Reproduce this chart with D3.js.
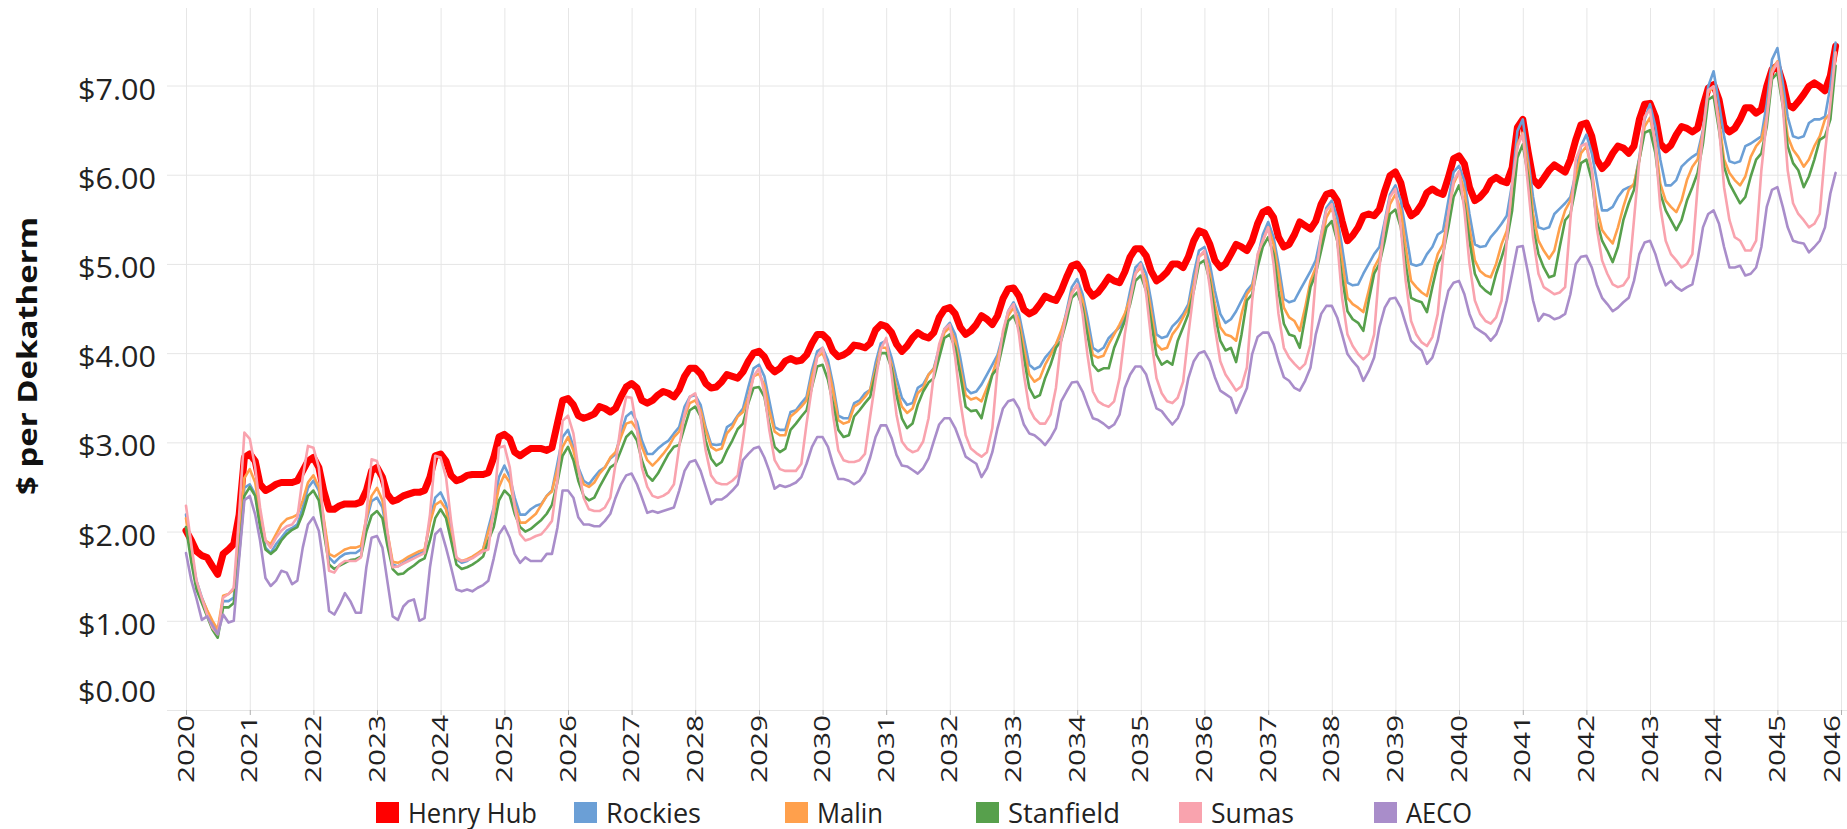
<!DOCTYPE html>
<html><head><meta charset="utf-8">
<script src="https://cdn.jsdelivr.net/npm/d3@7"></script>
<style>body{margin:0;background:#fff}svg{display:block}</style>
</head><body>
<svg id="c" width="1847" height="829"></svg>
<script>
// ---------- DATA (monthly, Jan 2020 .. Dec 2045) ----------
const years = d3.range(2020, 2047);
const yTicks = [0, 1, 2, 3, 4, 5, 6, 7];
const yTickLabels = ["$0.00", "$1.00", "$2.00", "$3.00", "$4.00", "$5.00", "$6.00", "$7.00"];
const seriesNames = ["Henry Hub", "Rockies", "Malin", "Stanfield", "Sumas", "AECO"];
const yTitle = "$ per Dekatherm";

const henryHub = [
2.01,1.90,1.78,1.73,1.71,1.61,1.52,1.75,1.80,1.86,2.19,2.83,
2.87,2.79,2.53,2.46,2.49,2.53,2.55,2.55,2.55,2.57,2.68,2.79,
2.83,2.72,2.46,2.25,2.25,2.29,2.31,2.31,2.31,2.33,2.46,2.68,
2.72,2.61,2.42,2.34,2.36,2.40,2.42,2.44,2.44,2.46,2.61,2.85,
2.87,2.79,2.63,2.57,2.59,2.63,2.64,2.64,2.64,2.66,2.83,3.06,
3.09,3.04,2.89,2.85,2.89,2.93,2.93,2.93,2.91,2.94,3.21,3.47,
3.49,3.42,3.30,3.27,3.29,3.32,3.40,3.38,3.34,3.38,3.51,3.62,
3.66,3.61,3.47,3.44,3.47,3.53,3.57,3.55,3.51,3.59,3.74,3.83,
3.83,3.77,3.66,3.61,3.62,3.68,3.76,3.74,3.72,3.79,3.91,4.00,
4.02,3.96,3.85,3.79,3.83,3.91,3.94,3.91,3.92,3.98,4.11,4.21,
4.21,4.15,4.02,3.96,3.98,4.02,4.09,4.08,4.06,4.11,4.26,4.32,
4.30,4.23,4.10,4.02,4.08,4.17,4.23,4.19,4.17,4.23,4.40,4.49,
4.51,4.44,4.29,4.21,4.25,4.32,4.42,4.38,4.32,4.42,4.61,4.72,
4.73,4.64,4.49,4.44,4.47,4.55,4.64,4.61,4.59,4.70,4.85,4.98,
5.00,4.91,4.72,4.64,4.68,4.76,4.85,4.81,4.79,4.91,5.08,5.17,
5.17,5.09,4.92,4.81,4.85,4.91,5.00,5.00,4.96,5.08,5.26,5.37,
5.35,5.22,5.04,4.96,5.00,5.11,5.22,5.19,5.15,5.26,5.45,5.58,
5.61,5.52,5.30,5.19,5.22,5.33,5.47,5.43,5.39,5.48,5.67,5.78,
5.80,5.71,5.48,5.26,5.32,5.41,5.54,5.56,5.54,5.61,5.82,5.99,
6.03,5.91,5.67,5.54,5.58,5.67,5.80,5.84,5.80,5.78,5.97,6.18,
6.21,6.12,5.86,5.71,5.75,5.82,5.93,5.97,5.93,5.91,6.08,6.53,
6.62,6.25,5.95,5.88,5.96,6.05,6.11,6.07,6.03,6.17,6.39,6.56,
6.58,6.43,6.17,6.07,6.13,6.24,6.32,6.30,6.24,6.32,6.62,6.79,
6.80,6.65,6.35,6.28,6.33,6.45,6.54,6.52,6.48,6.52,6.77,6.97,
7.01,6.84,6.54,6.48,6.52,6.62,6.75,6.75,6.69,6.73,6.99,7.18,
7.22,7.03,6.79,6.75,6.82,6.90,6.99,7.03,6.99,6.94,7.11,7.44];

const rockies = [
2.19,1.75,1.45,1.26,1.11,0.96,0.88,1.22,1.22,1.26,1.82,2.49,
2.53,2.42,2.12,1.82,1.76,1.86,1.93,2.01,2.04,2.08,2.27,2.49,
2.57,2.46,2.12,1.71,1.65,1.71,1.75,1.76,1.76,1.80,2.12,2.34,
2.38,2.27,1.97,1.63,1.61,1.65,1.69,1.73,1.75,1.78,2.12,2.38,
2.44,2.31,2.01,1.69,1.65,1.67,1.71,1.75,1.80,2.04,2.27,2.61,
2.74,2.61,2.38,2.19,2.19,2.25,2.29,2.31,2.40,2.46,2.76,3.06,
3.14,2.95,2.72,2.57,2.53,2.61,2.68,2.72,2.82,2.87,3.10,3.29,
3.34,3.23,3.02,2.87,2.87,2.93,2.98,3.02,3.10,3.17,3.40,3.51,
3.53,3.42,3.17,2.98,2.97,2.98,3.17,3.21,3.30,3.38,3.62,3.83,
3.87,3.74,3.47,3.17,3.14,3.14,3.34,3.36,3.44,3.51,3.81,4.02,
4.06,3.92,3.66,3.30,3.27,3.27,3.44,3.47,3.55,3.59,3.89,4.11,
4.14,3.95,3.72,3.50,3.42,3.44,3.61,3.65,3.76,3.83,4.06,4.27,
4.34,4.21,3.95,3.61,3.55,3.57,3.65,3.76,3.87,3.98,4.21,4.47,
4.57,4.44,4.17,3.87,3.82,3.85,3.95,4.02,4.10,4.21,4.47,4.74,
4.83,4.66,4.40,4.06,4.02,4.06,4.17,4.23,4.29,4.40,4.70,4.96,
5.02,4.89,4.59,4.21,4.17,4.19,4.30,4.36,4.44,4.55,4.89,5.15,
5.19,5.00,4.70,4.44,4.34,4.38,4.47,4.59,4.70,4.77,5.07,5.33,
5.47,5.30,5.00,4.61,4.57,4.59,4.70,4.81,4.92,5.04,5.33,5.63,
5.71,5.52,5.19,4.79,4.76,4.77,4.89,5.00,5.11,5.19,5.48,5.78,
5.88,5.71,5.37,5.00,4.98,5.00,5.11,5.19,5.33,5.37,5.71,6.03,
6.10,5.93,5.56,5.22,5.19,5.20,5.30,5.37,5.45,5.54,5.90,6.49,
6.62,6.17,5.75,5.41,5.39,5.41,5.56,5.62,5.68,5.75,6.02,6.32,
6.45,6.24,5.94,5.60,5.60,5.64,5.75,5.83,5.86,5.88,6.20,6.62,
6.79,6.54,6.17,5.88,5.88,5.94,6.09,6.15,6.20,6.24,6.50,6.99,
7.16,6.80,6.43,6.15,6.13,6.15,6.32,6.35,6.39,6.43,6.80,7.29,
7.42,7.03,6.65,6.43,6.41,6.43,6.58,6.62,6.62,6.65,6.99,7.48];

const malin = [
2.15,1.70,1.40,1.25,1.12,1.00,0.90,1.28,1.30,1.35,1.90,2.60,
2.70,2.55,2.20,1.90,1.86,1.97,2.08,2.14,2.16,2.19,2.35,2.55,
2.63,2.50,2.15,1.75,1.72,1.76,1.80,1.82,1.82,1.84,2.15,2.40,
2.49,2.35,2.00,1.66,1.65,1.68,1.72,1.75,1.78,1.80,2.10,2.30,
2.34,2.25,1.95,1.70,1.67,1.69,1.72,1.76,1.80,2.00,2.20,2.50,
2.64,2.55,2.30,2.10,2.10,2.15,2.20,2.30,2.40,2.45,2.70,2.95,
3.06,2.91,2.68,2.53,2.50,2.55,2.65,2.72,2.83,2.89,3.06,3.21,
3.23,3.14,2.95,2.80,2.74,2.80,2.87,2.95,3.06,3.12,3.29,3.44,
3.47,3.36,3.14,2.95,2.91,2.93,3.10,3.17,3.29,3.34,3.51,3.74,
3.77,3.64,3.36,3.12,3.08,3.08,3.29,3.34,3.40,3.47,3.74,3.96,
4.00,3.85,3.59,3.25,3.21,3.23,3.40,3.44,3.51,3.59,3.81,4.06,
4.06,3.87,3.61,3.40,3.33,3.38,3.55,3.61,3.76,3.82,4.02,4.23,
4.29,4.14,3.83,3.53,3.48,3.50,3.46,3.61,3.76,3.95,4.17,4.42,
4.51,4.36,4.06,3.76,3.68,3.72,3.87,3.98,4.10,4.25,4.44,4.68,
4.76,4.59,4.29,3.98,3.95,3.97,4.10,4.21,4.32,4.44,4.62,4.89,
4.96,4.81,4.47,4.10,4.04,4.06,4.21,4.29,4.40,4.51,4.77,5.08,
5.13,4.89,4.55,4.29,4.21,4.19,4.14,4.44,4.66,4.74,5.00,5.26,
5.41,5.22,4.89,4.51,4.40,4.36,4.25,4.51,4.81,4.96,5.22,5.52,
5.63,5.41,5.04,4.62,4.55,4.51,4.46,4.70,4.96,5.07,5.37,5.67,
5.78,5.60,5.19,4.81,4.74,4.68,4.64,4.89,5.11,5.22,5.56,5.90,
6.03,5.82,5.41,5.04,4.92,4.87,4.85,5.00,5.22,5.37,5.71,6.34,
6.47,6.09,5.56,5.26,5.15,5.06,5.15,5.41,5.60,5.71,5.98,6.24,
6.32,6.05,5.64,5.38,5.30,5.23,5.41,5.64,5.83,5.90,6.17,6.54,
6.64,6.35,5.90,5.71,5.64,5.58,5.71,5.94,6.09,6.17,6.47,6.92,
6.99,6.62,6.17,6.02,5.94,5.88,5.98,6.20,6.32,6.39,6.65,7.18,
7.27,6.88,6.43,6.28,6.20,6.09,6.17,6.32,6.43,6.62,6.69,7.37];

const stanfield = [
2.05,1.65,1.35,1.20,1.05,0.90,0.81,1.15,1.15,1.20,1.75,2.40,
2.50,2.40,2.05,1.80,1.75,1.80,1.90,1.97,2.02,2.05,2.20,2.40,
2.46,2.35,2.00,1.63,1.58,1.62,1.65,1.68,1.69,1.72,2.00,2.18,
2.23,2.15,1.85,1.58,1.52,1.53,1.58,1.62,1.67,1.70,1.90,2.15,
2.25,2.15,1.90,1.63,1.58,1.60,1.63,1.67,1.72,1.90,2.05,2.35,
2.46,2.40,2.20,2.05,2.00,2.03,2.08,2.13,2.20,2.30,2.55,2.85,
2.95,2.80,2.57,2.40,2.35,2.38,2.50,2.61,2.72,2.76,2.91,3.06,
3.12,3.02,2.80,2.63,2.57,2.65,2.76,2.87,2.95,2.97,3.17,3.36,
3.40,3.29,3.02,2.82,2.74,2.78,2.91,3.02,3.15,3.21,3.44,3.61,
3.62,3.51,3.21,2.95,2.89,2.93,3.14,3.21,3.29,3.36,3.62,3.85,
3.87,3.70,3.44,3.14,3.06,3.08,3.29,3.36,3.44,3.51,3.77,4.00,
4.00,3.83,3.53,3.27,3.16,3.21,3.42,3.57,3.67,3.72,3.95,4.17,
4.21,4.06,3.76,3.40,3.35,3.36,3.27,3.53,3.76,3.83,4.10,4.36,
4.42,4.27,3.95,3.61,3.50,3.53,3.72,3.87,4.06,4.14,4.36,4.62,
4.68,4.51,4.21,3.87,3.80,3.83,3.83,4.06,4.21,4.36,4.55,4.81,
4.87,4.70,4.36,3.98,3.87,3.91,3.87,4.14,4.29,4.44,4.70,5.00,
5.04,4.81,4.44,4.14,4.03,4.06,3.90,4.21,4.59,4.66,4.96,5.19,
5.30,5.11,4.70,4.33,4.21,4.19,4.06,4.40,4.74,4.89,5.15,5.41,
5.48,5.26,4.85,4.47,4.38,4.34,4.25,4.59,4.89,5.00,5.26,5.56,
5.61,5.41,5.00,4.62,4.59,4.57,4.46,4.74,5.00,5.11,5.41,5.75,
5.88,5.67,5.26,4.89,4.76,4.70,4.66,4.89,5.07,5.26,5.60,6.19,
6.34,5.98,5.41,5.11,4.96,4.85,4.87,5.19,5.49,5.56,5.86,6.13,
6.17,5.94,5.49,5.26,5.15,5.02,5.19,5.49,5.68,5.83,6.17,6.47,
6.50,6.24,5.79,5.60,5.49,5.38,5.49,5.71,5.86,6.02,6.35,6.84,
6.88,6.50,6.09,5.90,5.79,5.68,5.75,5.98,6.17,6.24,6.54,7.07,
7.14,6.77,6.32,6.13,6.05,5.86,5.98,6.17,6.39,6.43,6.62,7.22];

const sumas = [
2.29,1.85,1.45,1.25,1.07,0.92,0.85,1.26,1.30,1.37,2.19,3.11,
3.04,2.72,2.27,1.90,1.82,1.93,2.01,2.06,2.08,2.16,2.61,2.96,
2.94,2.72,2.12,1.56,1.54,1.63,1.67,1.67,1.67,1.71,2.19,2.81,
2.79,2.57,2.01,1.60,1.61,1.64,1.67,1.70,1.73,1.76,2.19,2.85,
2.83,2.61,2.12,1.71,1.67,1.68,1.70,1.74,1.78,1.80,2.27,2.94,
2.96,2.72,2.27,1.97,1.90,1.92,1.95,1.97,2.04,2.12,2.57,3.24,
3.30,3.10,2.72,2.38,2.25,2.23,2.23,2.27,2.38,2.76,3.21,3.51,
3.50,3.14,2.72,2.50,2.40,2.38,2.40,2.44,2.53,2.95,3.32,3.51,
3.55,3.29,2.91,2.63,2.55,2.53,2.53,2.57,2.63,3.02,3.47,3.74,
3.83,3.55,3.14,2.80,2.70,2.68,2.68,2.68,2.76,3.21,3.62,3.96,
4.06,3.81,3.32,2.91,2.80,2.78,2.78,2.80,2.87,3.29,3.70,4.04,
4.17,3.76,3.31,3.01,2.93,2.89,2.91,3.01,3.27,3.76,4.10,4.27,
4.32,3.95,3.46,3.08,2.93,2.88,2.84,2.89,3.16,3.83,4.25,4.47,
4.55,4.21,3.76,3.38,3.27,3.21,3.21,3.31,3.61,4.14,4.44,4.66,
4.77,4.44,3.98,3.57,3.46,3.42,3.40,3.46,3.72,4.21,4.59,4.89,
5.00,4.66,4.17,3.72,3.55,3.46,3.44,3.50,3.68,4.21,4.70,5.08,
5.15,4.74,4.29,3.91,3.76,3.67,3.58,3.63,3.84,4.59,5.11,5.26,
5.41,5.00,4.44,4.06,3.95,3.88,3.82,3.88,4.10,4.85,5.33,5.60,
5.67,5.26,4.62,4.21,4.08,3.99,3.93,3.99,4.21,4.96,5.45,5.75,
5.84,5.41,4.81,4.36,4.21,4.12,4.08,4.18,4.44,5.07,5.56,5.93,
6.04,5.60,5.00,4.59,4.44,4.36,4.33,4.40,4.59,5.26,5.90,6.31,
6.46,5.86,5.30,4.89,4.74,4.70,4.66,4.68,4.74,5.49,6.17,6.32,
6.35,6.05,5.41,5.04,4.89,4.77,4.74,4.76,4.85,5.49,6.17,6.65,
6.73,6.32,5.64,5.26,5.11,5.04,4.96,5.00,5.11,5.86,6.47,6.95,
6.99,6.54,5.86,5.49,5.30,5.26,5.15,5.15,5.26,6.05,6.62,7.14,
7.26,6.77,6.05,5.68,5.56,5.49,5.41,5.45,5.56,6.24,6.80,7.37];

const aeco = [
1.76,1.45,1.25,1.01,1.05,0.95,0.85,1.07,0.98,1.00,1.70,2.35,
2.40,2.19,1.90,1.48,1.39,1.45,1.56,1.54,1.41,1.45,1.82,2.08,
2.16,2.01,1.63,1.11,1.07,1.18,1.31,1.22,1.09,1.09,1.60,1.93,
1.95,1.82,1.45,1.05,1.01,1.16,1.22,1.24,1.00,1.03,1.60,1.97,
2.03,1.82,1.60,1.35,1.33,1.35,1.33,1.37,1.40,1.45,1.70,1.97,
2.06,1.93,1.75,1.65,1.71,1.67,1.67,1.67,1.75,1.75,2.04,2.46,
2.46,2.38,2.16,2.08,2.08,2.06,2.06,2.12,2.20,2.38,2.53,2.63,
2.65,2.53,2.38,2.21,2.23,2.21,2.23,2.25,2.27,2.46,2.68,2.78,
2.80,2.68,2.50,2.31,2.36,2.36,2.40,2.46,2.53,2.80,2.87,2.93,
2.95,2.83,2.68,2.48,2.52,2.50,2.52,2.55,2.61,2.76,2.95,3.06,
3.06,2.95,2.76,2.59,2.59,2.57,2.53,2.57,2.66,2.83,3.06,3.19,
3.19,3.05,2.86,2.74,2.73,2.69,2.65,2.71,2.82,3.01,3.20,3.27,
3.27,3.16,3.01,2.84,2.80,2.76,2.61,2.71,2.89,3.16,3.38,3.46,
3.48,3.38,3.20,3.10,3.08,3.03,2.97,3.05,3.16,3.46,3.57,3.67,
3.68,3.57,3.42,3.27,3.25,3.21,3.16,3.20,3.31,3.61,3.76,3.85,
3.85,3.76,3.57,3.38,3.35,3.27,3.20,3.27,3.42,3.72,3.91,4.00,
4.02,3.91,3.73,3.58,3.54,3.50,3.33,3.47,3.61,3.99,4.18,4.23,
4.23,4.10,3.91,3.73,3.69,3.61,3.58,3.69,3.84,4.21,4.44,4.53,
4.53,4.40,4.21,3.99,3.91,3.84,3.69,3.80,3.95,4.29,4.51,4.61,
4.62,4.51,4.33,4.14,4.08,4.03,3.88,3.95,4.14,4.44,4.70,4.79,
4.81,4.66,4.44,4.29,4.25,4.21,4.14,4.21,4.36,4.59,4.89,5.19,
5.20,4.89,4.59,4.36,4.44,4.42,4.38,4.40,4.44,4.66,5.00,5.08,
5.09,4.96,4.77,4.62,4.55,4.47,4.51,4.57,4.62,4.81,5.11,5.24,
5.26,5.11,4.92,4.76,4.81,4.74,4.70,4.74,4.77,5.04,5.41,5.56,
5.60,5.45,5.19,4.96,4.96,4.98,4.87,4.89,4.96,5.19,5.64,5.83,
5.86,5.64,5.41,5.26,5.24,5.23,5.13,5.19,5.26,5.41,5.79,6.02];

// ---------- STYLE ----------
const seriesValues = [henryHub, rockies, malin, stanfield, sumas, aeco];
const seriesColors = ["#ff0000", "#6b9fd6", "#ffa04c", "#57a04c", "#f9a3ae", "#a98dca"];
const seriesWidths = [7, 2.6, 2.6, 2.6, 2.6, 2.6];
const legendX = [376, 574, 785, 976, 1179, 1374];
const legendLen = [129, 95, 66, 112, 83, 66];

const W = 1847, H = 829;
const plotLeft = 167, plotTop = 8, plotBottom = 710;
const months = d3.range(henryHub.length).map(i => new Date(2020, i, 1));

const svg = d3.select("#c");
const x = d3.scaleTime().domain([new Date(2020, 0, 1), new Date(2046, 0, 1)]).range([186, 1841]);
const y = d3.scaleLinear().domain([0, 7]).range([710, 85.5]);

// gridlines
const gy = svg.append("g").attr("transform", `translate(${plotLeft},0)`)
  .call(d3.axisLeft(y).tickValues(yTicks).tickSize(-(W - plotLeft)).tickFormat(""));
gy.select(".domain").remove();
gy.selectAll("line").attr("stroke", "#e6e6e6").attr("stroke-width", 1);

const gx = svg.append("g").attr("transform", `translate(0,${plotBottom})`)
  .call(d3.axisBottom(x).tickValues(years.map(v => new Date(v, 0, 1))).tickSize(-(plotBottom - plotTop)).tickFormat(""));
gx.select(".domain").remove();
gx.selectAll("line").attr("stroke", "#e6e6e6").attr("stroke-width", 1);

// small tick marks below
const gt = svg.append("g").attr("transform", `translate(0,${plotBottom})`)
  .call(d3.axisBottom(x).tickValues(years.map(v => new Date(v, 0, 1))).tickSize(5).tickFormat(""));
gt.select(".domain").remove();
gt.selectAll("line").attr("stroke", "#b0b0b0").attr("stroke-width", 1);

// x labels (last label kept inside the picture, as in the reference)
svg.append("g").selectAll("text").data(years).join("text")
  .attr("transform", d => `translate(${Math.min(x(new Date(d, 0, 1)), 1832)},715) rotate(-90)`)
  .attr("text-anchor", "end").attr("dy", "0.36em")
  .attr("font-family", "'Open Sans', sans-serif").attr("font-size", 21)
  .attr("textLength", 68).attr("lengthAdjust", "spacingAndGlyphs")
  .attr("fill", "#222").text(d => String(d));

// y labels
svg.append("g").selectAll("text").data(yTicks).join("text")
  .attr("x", 156).attr("y", (d) => y(d) + 14 - (d === 0 ? 22 : 0))
  .attr("text-anchor", "end")
  .attr("font-family", "'Open Sans', sans-serif").attr("font-size", 30)
  .attr("textLength", 78).attr("lengthAdjust", "spacingAndGlyphs")
  .attr("fill", "#222").text((d, i) => yTickLabels[i]);

// y title
svg.append("text").attr("transform", "translate(37,356) rotate(-90)")
  .attr("text-anchor", "middle")
  .attr("font-family", "'Open Sans', sans-serif").attr("font-weight", "bold").attr("font-size", 26)
  .attr("textLength", 278).attr("lengthAdjust", "spacingAndGlyphs")
  .attr("fill", "#111").text(yTitle);

// lines
const line = d3.line().x((d, i) => x(months[i])).y(d => y(d));
svg.append("g").selectAll("path").data(seriesValues).join("path")
  .attr("d", d => line(d))
  .attr("fill", "none")
  .attr("stroke", (d, i) => seriesColors[i])
  .attr("stroke-width", (d, i) => seriesWidths[i])
  .attr("stroke-linejoin", "round").attr("stroke-linecap", "round");

// legend
const lg = svg.append("g");
seriesNames.forEach((n, i) => {
  lg.append("rect").attr("x", legendX[i]).attr("y", 802).attr("width", 23).attr("height", 21)
    .attr("fill", seriesColors[i]);
  lg.append("text").attr("x", legendX[i] + 32).attr("y", 822.5)
    .attr("font-family", "'Open Sans', sans-serif").attr("font-size", 27)
    .attr("textLength", legendLen[i]).attr("lengthAdjust", "spacingAndGlyphs")
    .attr("fill", "#222").text(n);
});
</script>
</body></html>
